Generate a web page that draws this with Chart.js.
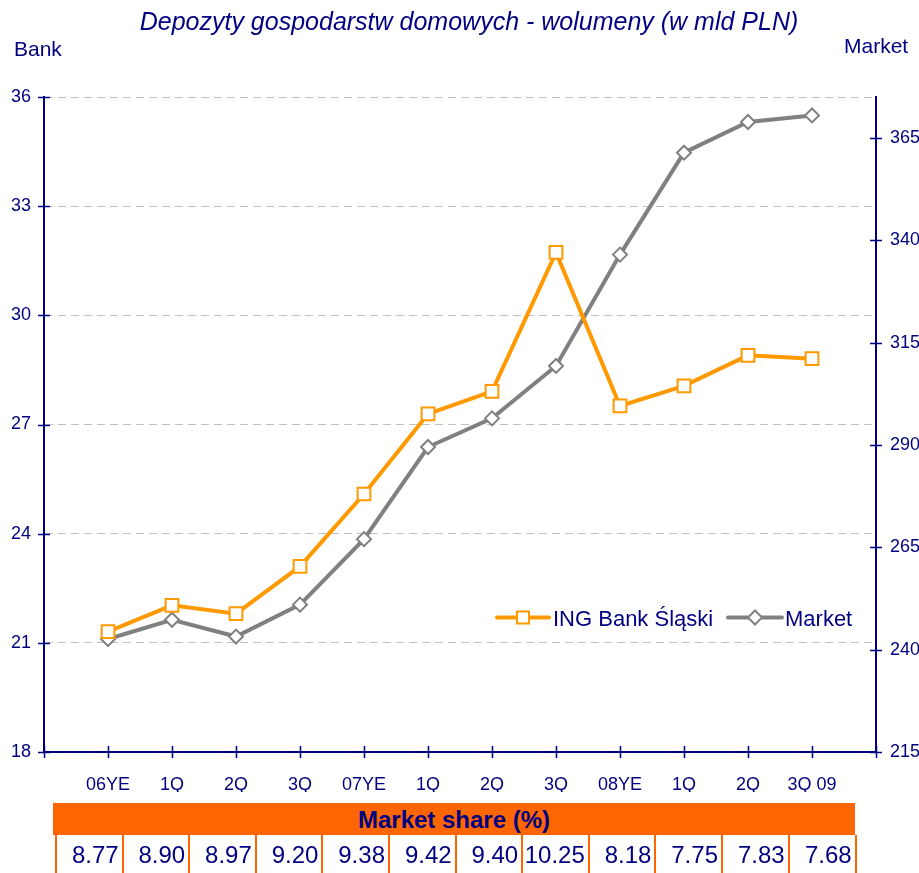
<!DOCTYPE html>
<html>
<head>
<meta charset="utf-8">
<script src="https://cdn.jsdelivr.net/npm/chart.js@4/dist/chart.umd.min.js"></script>
<style>
  html, body { margin: 0; padding: 0; background: #fff; overflow: hidden; }
  #wrap { position: relative; width: 919px; height: 873px; }
  #chart { position: absolute; left: 0; top: 0; }
  #share { position: absolute; left: 53px; top: 803px; width: 802px; font-family: "Liberation Sans", Arial, sans-serif; color: #000080; }
  #share .head { height: 32px; line-height: 33px; background: #FF6600; text-align: center; font-weight: bold; font-size: 24px; }
  #share .row { position: relative; height: 38px; }
  #share .cell { position: absolute; top: 0; height: 38px; border-left: 2.5px solid #FF6600; box-sizing: border-box;
                 text-align: right; font-size: 24px; line-height: 40px; padding-right: 3px; }
</style>
</head>
<body>
<div id="wrap">
  <canvas id="chart" width="919" height="873"></canvas>
  <div id="share"><div class="head">Market share (%)</div><div class="row" id="shareRow"></div></div>
</div>
<script>
const categories = ['06YE', '1Q', '2Q', '3Q', '07YE', '1Q', '2Q', '3Q', '08YE', '1Q', '2Q', '3Q 09'];
const ingBank = [21.31, 22.03, 21.80, 23.10, 25.09, 27.29, 27.91, 31.73, 27.51, 28.06, 28.90, 28.81];
const market = [242.6, 247.3, 243.2, 251.0, 267.0, 289.5, 296.5, 309.3, 336.5, 361.4, 368.9, 370.5];
const marketShare = [8.77, 8.90, 8.97, 9.20, 9.38, 9.42, 9.40, 10.25, 8.18, 7.75, 7.83, 7.68];
const marketTicks = [215, 240, 265, 290, 315, 340, 365];

const NAVY = '#000080';
const ORANGE = '#FF9900';
const GREY = '#808080';
const FONT = '"Liberation Sans", Arial, sans-serif';

// market share row under the chart
const row = document.getElementById('shareRow');
const cellW = 66.6;
marketShare.forEach((v, i) => {
  const cell = document.createElement('div');
  cell.className = 'cell';
  cell.style.left = (2 + i * cellW) + 'px';
  cell.style.width = (cellW + (i === marketShare.length - 1 ? 2.5 : 0)) + 'px';
  if (i === marketShare.length - 1) cell.style.borderRight = '2.5px solid #FF6600';
  cell.textContent = v.toFixed(2);
  row.appendChild(cell);
});

function drawMarker(ctx, style, x, y, color) {
  ctx.save();
  ctx.fillStyle = '#fff';
  ctx.strokeStyle = color;
  ctx.lineWidth = 2;
  ctx.beginPath();
  if (style === 'rect') {
    ctx.rect(x - 6, y - 6, 12, 12);
  } else {
    ctx.moveTo(x, y - 7); ctx.lineTo(x + 7, y); ctx.lineTo(x, y + 7); ctx.lineTo(x - 7, y); ctx.closePath();
  }
  ctx.fill();
  ctx.stroke();
  ctx.restore();
}

const decorations = {
  id: 'decorations',
  beforeDatasetsDraw(chart) {
    const {ctx, scales: {x, y, y1}} = chart;
    ctx.save();
    ctx.strokeStyle = NAVY;
    ctx.lineWidth = 1.5;
    ctx.beginPath();
    y.ticks.forEach(t => {
      const py = Math.round(y.getPixelForValue(t.value)) + 0.5;
      ctx.moveTo(x.left - 6, py); ctx.lineTo(x.left + 6, py);
    });
    y1.ticks.forEach(t => {
      const py = Math.round(y1.getPixelForValue(t.value)) + 0.5;
      ctx.moveTo(x.right - 6, py); ctx.lineTo(x.right + 6, py);
    });
    for (let i = 0; i <= categories.length + 1; i++) {
      const px = Math.round(x.getPixelForValue(i)) + 0.5;
      ctx.moveTo(px, y.bottom - 6); ctx.lineTo(px, y.bottom + 6);
    }
    ctx.stroke();
    ctx.restore();
  },
  afterDraw(chart) {
    const {ctx} = chart;
    ctx.save();
    ctx.fillStyle = NAVY;
    ctx.textBaseline = 'alphabetic';
    ctx.textAlign = 'center';
    ctx.font = 'italic 25px ' + FONT;
    ctx.fillText('Depozyty gospodarstw domowych - wolumeny (w mld PLN)', 469, 30);
    ctx.textAlign = 'left';
    ctx.font = '21px ' + FONT;
    ctx.fillText('Bank', 14, 56);
    ctx.fillText('Market', 844, 53);

    // legend inside the plot
    const ly = 617.5;
    const ds = chart.data.datasets;
    const items = [
      {x0: 497, x1: 549, tx: 553, d: ds[0]},
      {x0: 728, x1: 782, tx: 785, d: ds[1]}
    ];
    ctx.font = '22px ' + FONT;
    items.forEach(it => {
      ctx.strokeStyle = it.d.borderColor;
      ctx.lineWidth = 4;
      ctx.lineCap = 'round';
      ctx.beginPath();
      ctx.moveTo(it.x0, ly); ctx.lineTo(it.x1, ly);
      ctx.stroke();
      drawMarker(ctx, it.d.pointStyle, (it.x0 + it.x1) / 2, ly, it.d.borderColor);
      ctx.fillStyle = NAVY;
      ctx.fillText(it.d.label, it.tx, ly + 8);
    });
    ctx.restore();
  }
};

new Chart(document.getElementById('chart'), {
  type: 'line',
  data: {
    datasets: [
      {
        label: 'ING Bank Śląski',
        data: ingBank.map((v, i) => ({x: i + 1, y: v})),
        yAxisID: 'y',
        borderColor: ORANGE,
        borderWidth: 4,
        pointStyle: 'rect',
        pointRadius: 9,
        pointBackgroundColor: '#fff',
        pointBorderColor: ORANGE,
        pointBorderWidth: 2,
        tension: 0
      },
      {
        label: 'Market',
        data: market.map((v, i) => ({x: i + 1, y: v})),
        yAxisID: 'y1',
        borderColor: GREY,
        borderWidth: 4,
        pointStyle: 'rectRot',
        pointRadius: 7,
        pointBackgroundColor: '#fff',
        pointBorderColor: GREY,
        pointBorderWidth: 2,
        tension: 0
      }
    ]
  },
  options: {
    responsive: false,
    animation: false,
    layout: {padding: {top: 97, bottom: 81, left: 0, right: 0}},
    plugins: {
      legend: {display: false},
      title: {display: false},
      tooltip: {enabled: false}
    },
    scales: {
      x: {
        type: 'linear',
        min: 0,
        max: categories.length + 1,
        afterBuildTicks: s => { s.ticks = categories.map((c, i) => ({value: i + 1})); },
        afterFit: s => { s.height = 40; },
        grid: {display: false},
        border: {display: true, color: NAVY, width: 2},
        ticks: {
          autoSkip: false,
          maxRotation: 0,
          padding: 14,
          color: NAVY,
          font: {family: FONT, size: 18},
          callback: v => categories[v - 1]
        }
      },
      y: {
        position: 'left',
        min: 18,
        max: 36,
        afterFit: s => { s.width = 44; },
        grid: {color: '#C0C0C0', lineWidth: 1, drawTicks: false},
        border: {display: true, color: NAVY, width: 2, dash: [8, 5]},
        ticks: {stepSize: 3, padding: 13, color: NAVY, font: {family: FONT, size: 18}}
      },
      y1: {
        position: 'right',
        min: 215,
        max: 375,
        afterBuildTicks: s => { s.ticks = marketTicks.map(v => ({value: v})); },
        afterFit: s => { s.width = 43; },
        grid: {display: false, drawTicks: false},
        border: {display: true, color: NAVY, width: 2},
        ticks: {padding: 14, color: NAVY, font: {family: FONT, size: 18}}
      }
    }
  },
  plugins: [decorations]
});
</script>
</body>
</html>
